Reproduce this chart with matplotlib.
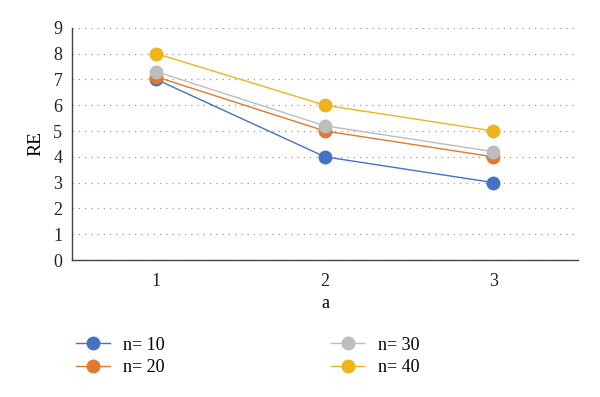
import matplotlib
matplotlib.use("Agg")
from matplotlib import pyplot as plt

plt.rcParams['font.family'] = ['Liberation Serif', 'DejaVu Serif']

a_vals = [1, 2, 3]
re_n10 = [7.0, 4.0, 3.0]
re_n20 = [7.1, 5.0, 4.0]
re_n30 = [7.3, 5.2, 4.2]
re_n40 = [8.0, 6.0, 5.0]
labels = ["n= 10", "n= 20", "n= 30", "n= 40"]
colors = ["#4472C4", "#E07A2E", "#BDBDBD", "#EDB41C"]


def main():
    fig = plt.figure(figsize=(6, 3.97), dpi=100)
    ax = fig.add_axes([0.12, 0.345, 0.843, 0.585])

    series = [re_n10, re_n20, re_n30, re_n40]
    for ys, lab, c in zip(series, labels, colors):
        ax.plot(a_vals, ys, color=c, lw=1.0, marker="o", markersize=9,
                label=lab, zorder=3)

    ax.set_xlim(0.5, 3.5)
    ax.set_ylim(0, 9)
    ax.set_xticks(a_vals)
    ax.set_yticks(range(0, 10))
    ax.tick_params(length=0, labelsize=13, colors="#222222")
    ax.tick_params(axis="x", pad=9)
    ax.tick_params(axis="y", pad=7)
    ax.yaxis.grid(True, linestyle=(0, (1, 4)), color="#9a9a9a", lw=0.9)
    ax.set_axisbelow(True)
    for s in ["top", "right"]:
        ax.spines[s].set_visible(False)
    for s in ["left", "bottom"]:
        ax.spines[s].set_color("#444444")
        ax.spines[s].set_linewidth(1.0)

    ax.set_xlabel("a", fontsize=13, labelpad=4)
    ax.set_ylabel("RE", fontsize=14, labelpad=6)

    fig.legend(loc="upper left", bbox_to_anchor=(0.115, 0.17), ncol=2,
               frameon=False, fontsize=13, columnspacing=9.2,
               handlelength=1.85, handletextpad=0.75, labelspacing=0.3,
               borderaxespad=0)

    fig.savefig("out.png", dpi=100)


if __name__ == '__main__':
    main()
